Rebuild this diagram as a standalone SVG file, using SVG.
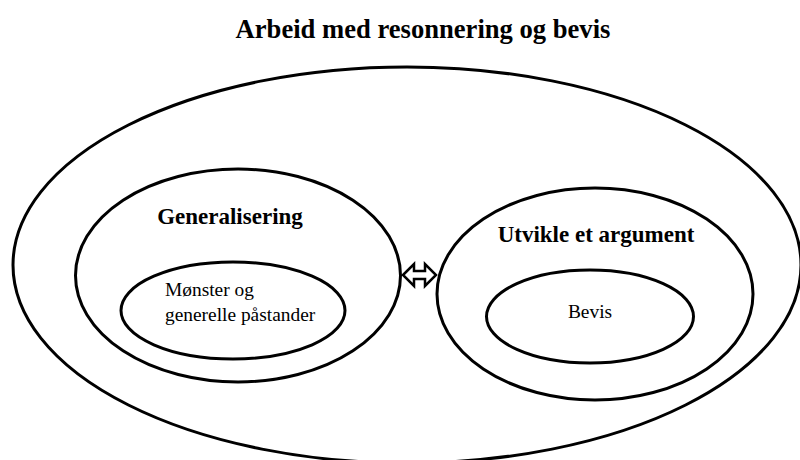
<svg xmlns="http://www.w3.org/2000/svg" width="800" height="460" viewBox="0 0 800 460">
<style>
.ell{fill:none;stroke:#000;stroke-width:3}
text{fill:#000}
</style>
<rect width="800" height="460" fill="#fff"/>
<text font-family="Liberation Serif" font-weight="bold" x="423" y="38" font-size="26.6" text-anchor="middle">Arbeid med resonnering og bevis</text>
<g id="outer"><ellipse class="ell" cx="407" cy="265" rx="394" ry="198"/></g>
<g id="generalisering">
<ellipse class="ell" cx="238" cy="275.5" rx="162.5" ry="106.5"/>
<text font-family="Liberation Serif" font-weight="bold" x="230" y="224" font-size="23" text-anchor="middle">Generalisering</text>
</g>
<g id="monster">
<ellipse class="ell" cx="233" cy="310.5" rx="112" ry="48.5"/>
<text font-family="Liberation Serif" x="165" y="296" font-size="19.4">Mønster og</text>
<text font-family="Liberation Serif" x="165" y="321" font-size="19.4">generelle påstander</text>
</g>
<g id="utvikle">
<ellipse class="ell" cx="595" cy="294" rx="158" ry="106"/>
<text font-family="Liberation Serif" font-weight="bold" x="596" y="242" font-size="23" text-anchor="middle">Utvikle et argument</text>
</g>
<g id="bevis">
<ellipse class="ell" cx="590" cy="316.5" rx="103.5" ry="46.5"/>
<text font-family="Liberation Serif" x="590" y="318" font-size="19.4" text-anchor="middle">Bevis</text>
</g>
<g id="connectors">
<polygon points="403,275 414,264 414,271 425,271 425,264 436,275 425,286 425,279 414,279 414,286" fill="#fff" stroke="#000" stroke-width="2.5" stroke-linejoin="miter"/>
</g>
</svg>
